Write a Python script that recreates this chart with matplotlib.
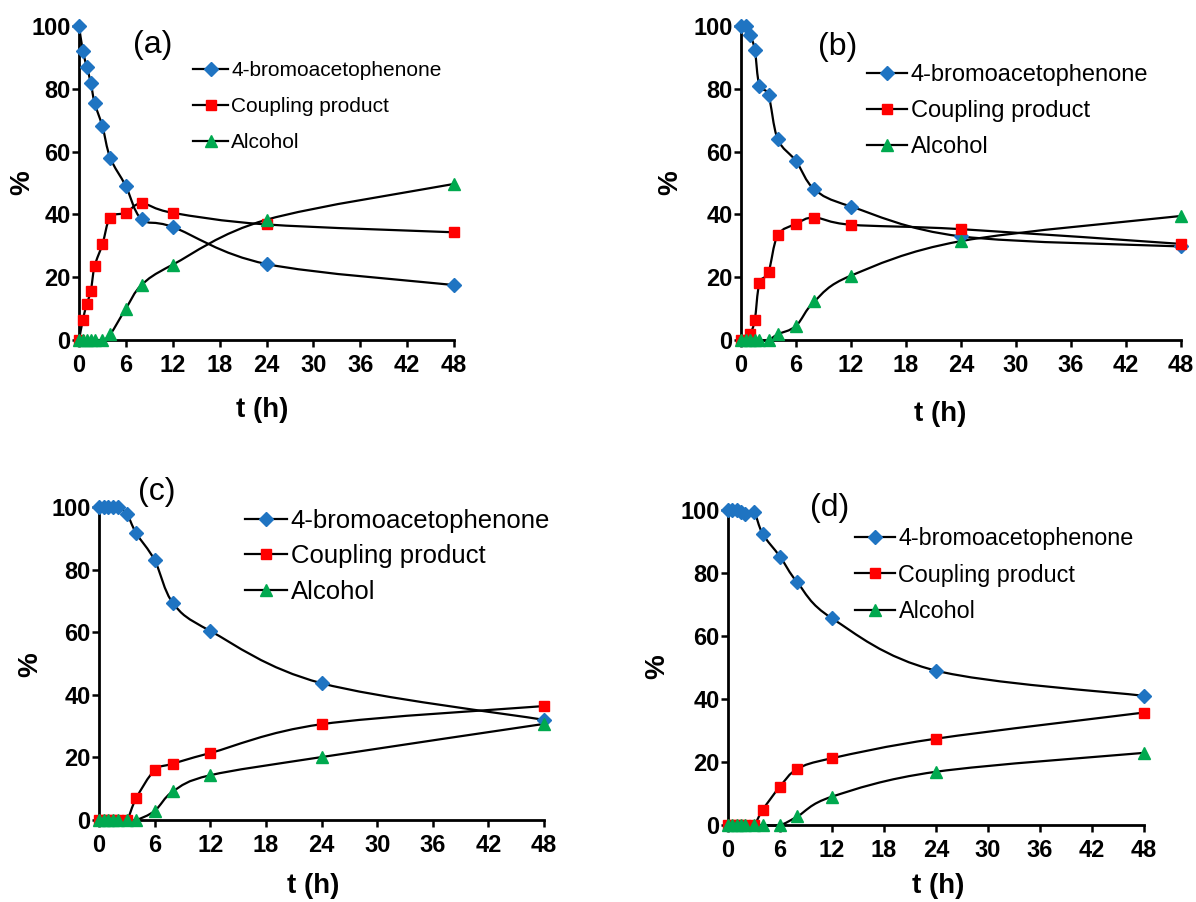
import numpy as np
import matplotlib
matplotlib.use("Agg")
import matplotlib.pyplot as plt
from matplotlib.path import Path
from matplotlib.patches import PathPatch
from matplotlib.lines import Line2D

plt.rcParams["font.family"] = ["Liberation Sans", "DejaVu Sans"]

# sampling times (h)
t = [0, 0.5, 1, 1.5, 2, 3, 4, 6, 8, 12, 24, 48]

# (a)
bromo_a = [100, 92, 87, 82, 75.5, 68, 58, 49, 38.5, 36, 24.2, 17.5]
coupling_a = [0, 6.5, 11.5, 15.5, 23.5, 30.5, 39, 40.5, 43.5, 40.5, 36.8, 34.3]
alcohol_a = [0, 0, 0, 0, 0, 0, 1.8, 10, 17.5, 24, 38.3, 49.7]

# (b)
bromo_b = [100, 100, 97, 92.5, 81, 78, 64, 57, 48, 42.5, 33, 29.8]
coupling_b = [0, 0, 2, 6.3, 18, 21.6, 33.3, 37, 39, 36.7, 35.3, 30.6]
alcohol_b = [0, 0, 0, 0, 0, 0, 1.8, 4.5, 12.3, 20.5, 31.5, 39.5]

# (c)
bromo_c = [100, 100, 100, 100, 100, 97.8, 91.7, 83, 69.2, 60.4, 43.7, 32]
coupling_c = [0, 0, 0, 0, 0, 0, 6.9, 15.9, 18, 21.4, 30.6, 36.4]
alcohol_c = [0, 0, 0, 0, 0, 0, 0, 2.9, 9.2, 14.3, 20.1, 30.7]

# (d)
bromo_d = [100, 100, 100, 99.4, 98.8, 99.3, 92.4, 85.2, 77, 65.6, 49, 41]
coupling_d = [0, 0, 0, 0, 0, 0, 4.8, 12.2, 17.8, 21.2, 27.4, 35.7]
alcohol_d = [0, 0, 0, 0, 0, 0, 0, 0, 2.7, 9, 16.9, 22.9]

series_names = ["4-bromoacetophenone", "Coupling product", "Alcohol"]
panel_labels = ["(a)", "(b)", "(c)", "(d)"]
x_ticks = [0, 6, 12, 18, 24, 30, 36, 42, 48]
y_ticks = [0, 20, 40, 60, 80, 100]

BLUE = "#1f74c2"
RED = "#ff0000"
GREEN = "#00a94f"
styles = [("D", BLUE, 7), ("s", RED, 7.5), ("^", GREEN, 8)]

W, H = 1196, 902


def smooth_path(x, y):
    # Bezier spline through the points, like a spreadsheet "smoothed line"
    pts = np.column_stack([x, y]).astype(float)
    n = len(pts)
    verts = [pts[0]]
    codes = [Path.MOVETO]
    for i in range(n - 1):
        p0 = pts[max(i - 1, 0)]
        p1 = pts[i]
        p2 = pts[i + 1]
        p3 = pts[min(i + 2, n - 1)]
        verts += [p1 + (p2 - p0) / 6, p2 - (p3 - p1) / 6, p2]
        codes += [Path.CURVE4] * 3
    return Path(verts, codes)


def frac_rect(x0, y0, x1, y1):
    return [x0 / W, 1 - y1 / H, (x1 - x0) / W, (y1 - y0) / H]


def fx(px):
    return px / W


def fy(py):
    return 1 - py / H


fig = plt.figure(figsize=(W / 100, H / 100), dpi=100)

# pixel layout of each panel: axes box, panel tag, legend corner, axis titles
panels = [
    dict(rect=(79, 26, 454, 340), data=(bromo_a, coupling_a, alcohol_a),
         tag=(153, 45), leg=(193, 61), legfs=15, sp=0.82, hl=35,
         xlab=(262, 410), ylab=(22, 183)),
    dict(rect=(741, 26, 1181, 340), data=(bromo_b, coupling_b, alcohol_b),
         tag=(838, 47), leg=(867, 64), legfs=17, sp=0.6, hl=40,
         xlab=(940, 414), ylab=(670, 183)),
    dict(rect=(99, 507, 544, 820), data=(bromo_c, coupling_c, alcohol_c),
         tag=(157, 492), leg=(245, 509), legfs=18.5, sp=0.44, hl=42,
         xlab=(313, 886), ylab=(30, 665)),
    dict(rect=(728, 510, 1144, 825), data=(bromo_d, coupling_d, alcohol_d),
         tag=(830, 508), leg=(855, 527), legfs=16.8, sp=0.58, hl=40,
         xlab=(938, 886), ylab=(657, 667)),
]

for label, p in zip(panel_labels, panels):
    ax = fig.add_axes(frac_rect(*p["rect"]))
    for ys, (mk, col, ms) in zip(p["data"], styles):
        ax.add_patch(PathPatch(smooth_path(t, ys), fill=False, edgecolor="black",
                               lw=1.6, clip_on=False, zorder=2))
        ax.plot(t, ys, linestyle="none", marker=mk, color=col, ms=ms,
                mec=col, clip_on=False, zorder=3)

    ax.set_xlim(0, 48)
    ax.set_ylim(0, 100)
    ax.set_xticks(x_ticks)
    ax.set_yticks(y_ticks)
    for s in ["top", "right"]:
        ax.spines[s].set_visible(False)
    for s in ["left", "bottom"]:
        ax.spines[s].set_linewidth(2)
    ax.tick_params(direction="out", length=5, width=1.8, labelsize=17)
    ax.tick_params(axis="y", pad=1)
    ax.tick_params(axis="x", pad=5)
    for lab in ax.get_xticklabels() + ax.get_yticklabels():
        lab.set_fontweight("bold")

    ax.set_xlabel("t (h)", fontsize=20, fontweight="bold", va="center")
    ax.set_ylabel("%", fontsize=20, fontweight="bold", va="center")
    ax.xaxis.set_label_coords(fx(p["xlab"][0]), fy(p["xlab"][1]),
                              transform=fig.transFigure)
    ax.yaxis.set_label_coords(fx(p["ylab"][0]), fy(p["ylab"][1]),
                              transform=fig.transFigure)

    fig.text(fx(p["tag"][0]), fy(p["tag"][1]), label, fontsize=23,
             ha="center", va="center")

    handles = [Line2D([], [], color="black", lw=1.6, marker=mk, mfc=col,
                      mec=col, ms=ms) for mk, col, ms in styles]
    ax.legend(handles, series_names, loc="upper left",
              bbox_to_anchor=(fx(p["leg"][0]), fy(p["leg"][1])),
              bbox_transform=fig.transFigure, frameon=False,
              fontsize=p["legfs"], borderpad=0, borderaxespad=0,
              handlelength=p["hl"] / (p["legfs"] * 100 / 72),
              handletextpad=0.15, labelspacing=p["sp"])

fig.savefig("out.png", dpi=100)
